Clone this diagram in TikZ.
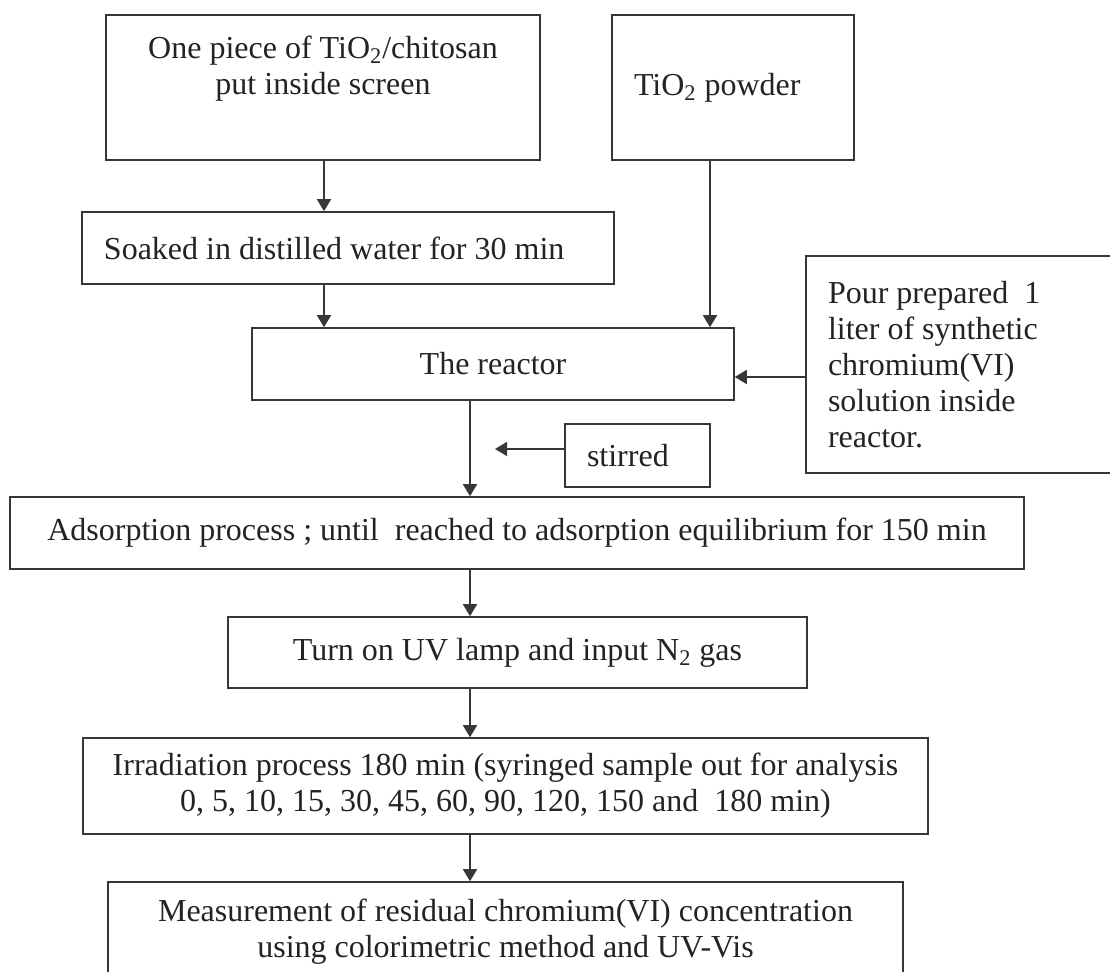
\documentclass[tikz,border=0pt]{standalone}
\usepackage{fontspec}
\setmainfont{Liberation Serif}
\usepackage{tikz}
\usetikzlibrary{arrows.meta,positioning,calc}
\definecolor{LineGray}{RGB}{55,55,55}
\definecolor{TextDark}{RGB}{35,35,35}
\tikzset{
  cbox/.style={draw=LineGray,line width=0.8pt,align=center,inner sep=0pt,text=TextDark},
  lbox/.style={draw=LineGray,line width=0.8pt,align=flush left,inner xsep=11pt,inner ysep=0pt,text=TextDark},
  arr/.style={-{Triangle[length=6pt,width=7pt]},LineGray,line width=0.8pt},
}

\begin{document}
\begin{tikzpicture}[x=0.5pt,y=-0.5pt,font=\fontsize{16}{18}\selectfont]
    \clip (0,0) rectangle (1110,972);
    \fill[white] (0,0) rectangle (1110,972);
    % top row
    \node[cbox,minimum width=217pt,minimum height=72.5pt] (piece) at (323,87.5)
      {One piece of TiO\textsubscript{2}/chitosan\\put inside screen\\[4.5pt]~};
    \node[lbox,text width=99pt,minimum height=72.5pt] (powder) at (733,87.5)
      {TiO\textsubscript{2}\ powder};
    \node[lbox,text width=244pt,minimum height=36pt] (soak) at (348,248)
      {Soaked in distilled water for 30 min};
    \node[cbox,minimum width=241pt,minimum height=36pt] (reactor) at (493,364)
      {The reactor};
    \node[lbox,text width=140pt,minimum height=108.5pt] (pour) at (968,364.5)
      {Pour prepared\ \ 1\\liter of synthetic\\chromium(VI)\\solution inside\\reactor.};
    \node[lbox,text width=50.5pt,minimum height=31.5pt] (stirred) at (637.5,455.5)
      {stirred};
    % main column
    \node[cbox,minimum width=507pt,minimum height=36pt] (adsorb) at (517,533)
      {Adsorption process ; until\ \ reached to adsorption equilibrium for 150 min};
    \node[cbox,minimum width=289.5pt,minimum height=35.5pt] (uvlamp) at (517.5,652.5)
      {Turn on UV lamp and input N\textsubscript{2} gas};
    \node[cbox,minimum width=422.5pt,minimum height=48pt] (irrad) at (505.5,786)
      {Irradiation process 180 min (syringed sample out for analysis\\0, 5, 10, 15, 30, 45, 60, 90, 120, 150 and\ \ 180 min)};
    \node[cbox,minimum width=397.5pt,minimum height=50pt] (measure) at (505.5,932)
      {Measurement of residual chromium(VI) concentration\\using colorimetric method and UV-Vis};
    % arrow lines
    \coordinate (axisL) at (324,0);
    \coordinate (axisR) at (710,0);
    \coordinate (axisM) at (470,0);
    \coordinate (stirtip) at (495,449);
    \draw[arr] (piece.south -| axisL) -- (soak.north -| axisL);
    \draw[arr] (soak.south -| axisL) -- (reactor.north -| axisL);
    \draw[arr] (powder.south -| axisR) -- (reactor.north -| axisR);
    \draw[arr] ([yshift=-6.25pt]pour.west) -- ([yshift=-6.25pt]pour.west -| reactor.east);
    \draw[arr] (reactor.south -| axisM) -- (adsorb.north -| axisM);
    \draw[arr] (stirtip -| stirred.west) -- (stirtip);
    \draw[arr] (adsorb.south -| axisM) -- (uvlamp.north -| axisM);
    \draw[arr] (uvlamp.south -| axisM) -- (irrad.north -| axisM);
    \draw[arr] (irrad.south -| axisM) -- (measure.north -| axisM);
  \end{tikzpicture}
\end{document}
